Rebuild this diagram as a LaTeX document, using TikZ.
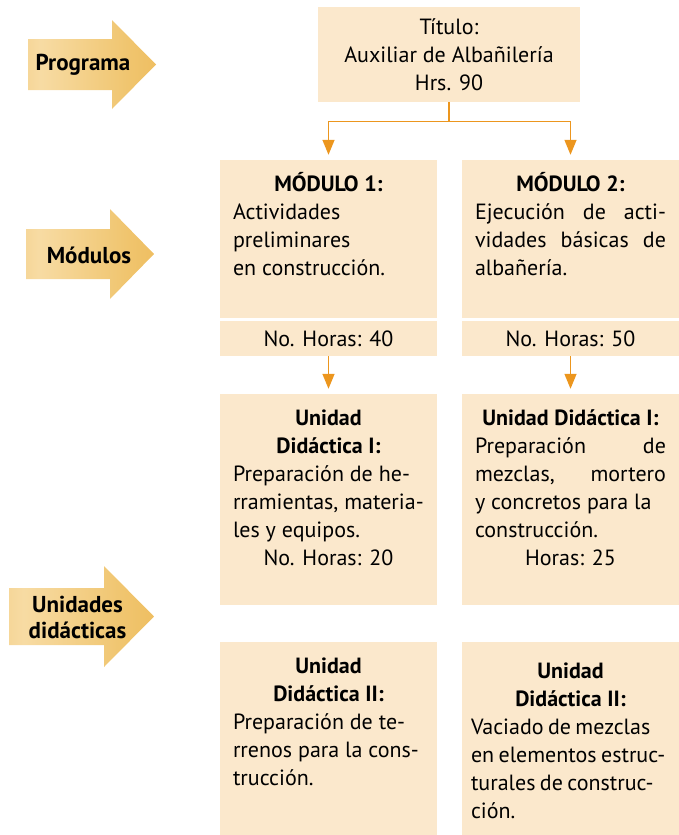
\documentclass[tikz,border=0pt]{standalone}
\usepackage{fontspec}
\setmainfont{PT Sans}
\usetikzlibrary{arrows.meta}

% sombreado de las flechas de la izquierda
\pgfdeclarehorizontalshading{oro}{100bp}{rgb(0bp)=(0.93,0.75,0.40); rgb(30bp)=(0.97,0.86,0.64); rgb(65bp)=(0.94,0.77,0.43); rgb(100bp)=(0.93,0.69,0.27)}
\newcommand{\bloque}[2]{\parbox[c][#1][t]{191pt}{#2}}

\begin{document}
\begin{tikzpicture}[x=1pt,y=-1pt,>={Triangle[length=15pt,width=12pt]}]
    \definecolor{fondo}{RGB}{251,232,204}
    \definecolor{naranja}{RGB}{236,150,30}

    \fontsize{22}{28}\selectfont
    \tikzstyle{caja}=[fill=fondo,inner xsep=13pt,inner ysep=12pt]  % cajas de texto
    \tikzstyle{barra}=[fill=fondo,minimum width=217pt,minimum height=35pt,inner sep=0pt]  % horas
    \tikzstyle{flecha}=[shading=oro]  % flechas de la izquierda
    \tikzstyle{rotulo}=[font=\fontsize{23}{26}\selectfont\bfseries,align=center]
    \tikzstyle{linea}=[draw=naranja,line width=1.4pt,->,shorten >=5pt]

    \useasboundingbox (0,0) rectangle (679,835);

    % flechas de la izquierda
    \path[flecha] (28,39) -- (112,39) -- (112,20) -- (156,64.5) -- (112,109) -- (112,90) -- (28,90) -- cycle;
    \node[rotulo](prog) at (83,65) {Programa};
    \path[flecha] (26,229) -- (110,229) -- (110,209) -- (154,254) -- (110,299) -- (110,279) -- (26,279) -- cycle;
    \node[rotulo](mods) at (89,255) {Módulos};
    \path[flecha] (9,588) -- (104,588) -- (104,566) -- (154,616.5) -- (104,667) -- (104,645) -- (9,645) -- cycle;
    \node[rotulo](unids) at (77.5,617) {Unidades\\didácticas};

    % cajas
    \node[fill=fondo,align=center,minimum width=262pt,minimum height=95pt](titulo) at (449,54.5)
        {Título:\\Auxiliar de Albañilería\\Hrs. 90};
    \node[caja](mod1) at (328.5,239)
        {\bloque{134pt}{\centerline{\strut\bfseries MÓDULO 1:}\raggedright\strut Actividades\\ preliminares\\ en construcción.}};
    \node[caja,right of=mod1,node distance=242pt](mod2)
        {\bloque{134pt}{\centerline{\strut\bfseries MÓDULO 2:}\strut Ejecución \hfill de \hfill acti-\\ vidades \hfill básicas \hfill de\\ albañería.}};
    \node[barra,below of=mod1,node distance=99.5pt](hor1){No. Horas: 40};
    \node[barra,below of=mod2,node distance=99.5pt](hor2){No. Horas: 50};
    \node[caja,below of=hor1,node distance=161pt](ud1a)
        {\bloque{187pt}{\centerline{\strut\bfseries Unidad}\centerline{\strut\bfseries Didáctica I:}\raggedright\strut Preparación de he-\\ rramientas, materia-\\ les y equipos.\par\centerline{\strut No. Horas: 20}}};
    \node[caja,below of=hor2,node distance=161pt](ud1b)
        {\bloque{187pt}{\centerline{\strut\bfseries Unidad Didáctica I:}\strut Preparación \hfill de\\ mezclas, \hfill mortero\\ y concretos para la\\ construcción.\par\centerline{\strut Horas: 25}}};
    \node[caja,below of=ud1a,node distance=239pt](ud2a)
        {\bloque{169pt}{\centerline{\strut\bfseries Unidad}\centerline{\strut\bfseries Didáctica II:}\raggedright\strut Preparación de te-\\ rrenos para la cons-\\ trucción.}};
    \node[caja,below of=ud1b,node distance=239pt](ud2b)
        {\bloque{169pt}{\vspace*{5pt}\centerline{\strut\bfseries Unidad}\centerline{\strut\bfseries Didáctica II:}\raggedright\spaceskip=0.2em\strut\hspace*{-4pt}Vaciado de mezclas\\ \hspace*{-4pt}\mbox{en elementos estruc-}\\ \hspace*{-4pt}\mbox{turales de construc-}\\ \hspace*{-4pt}ción.}};

    % conectores
    \draw[linea](titulo.south) -- ++(0,19) coordinate (rama) -| (mod1.north);
    \draw[linea](rama) -| (mod2.north);
    \draw[linea](hor1) -- (ud1a);
    \draw[linea](hor2) -- (ud1b);
\end{tikzpicture}
\end{document}
